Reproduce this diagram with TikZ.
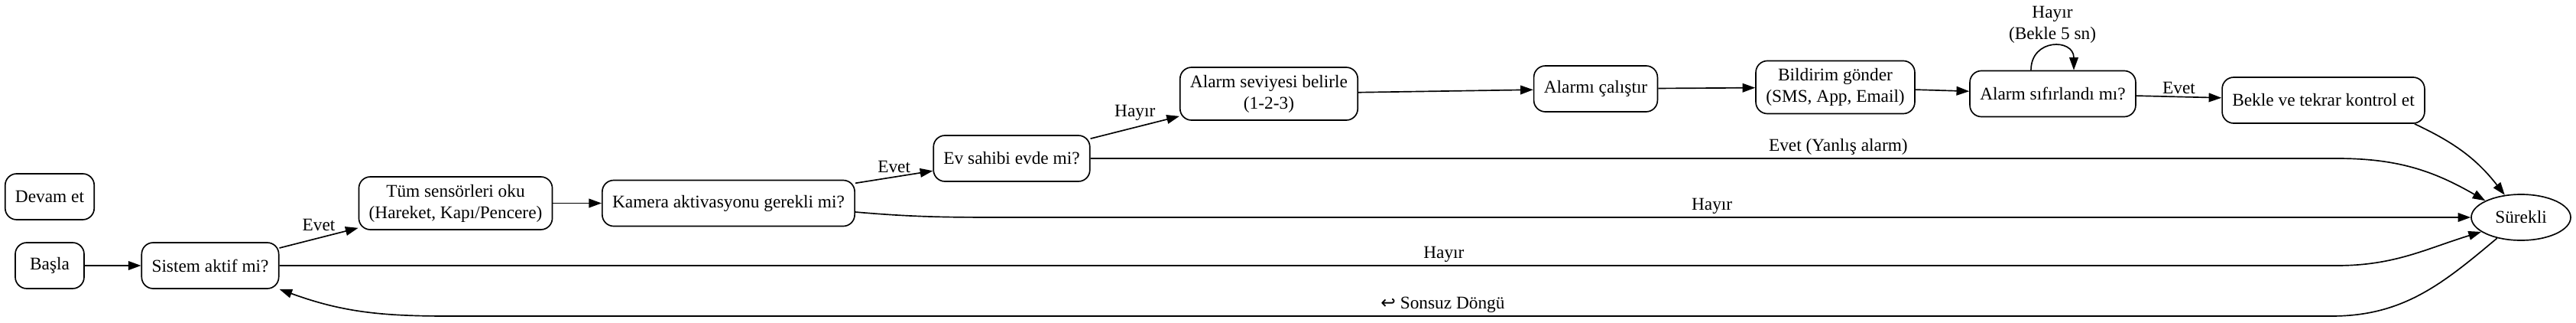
\documentclass[tikz,border=0pt]{standalone}
\usepackage{fontspec}
\setmainfont{Liberation Serif}
\newfontfamily\arrowfont{DejaVu Sans}
\usepackage{tikz}
\usetikzlibrary{arrows.meta,positioning,shapes.geometric}

\begin{document}
\begin{tikzpicture}[
                block/.style={draw, rounded corners=9pt, line width=1pt, minimum width=54pt, minimum height=36pt, inner xsep=7.92pt, inner ysep=3.96pt, align=center, font=\fontsize{14}{16.8}\selectfont},
                tall/.style={minimum height=41.4pt},
                oval/.style={draw, ellipse, line width=1pt, minimum width=78pt, minimum height=36pt, inner sep=0pt, font=\fontsize{14}{16.8}\selectfont},
                arrow/.style={-{Triangle[length=10pt,width=7pt]}, line width=1pt},
                lbl/.style={inner sep=2pt, align=center, font=\fontsize{14}{16.8}\selectfont},
                on grid
            ]
            \useasboundingbox (-39pt,-44.4pt) rectangle (1983pt,208.2pt);

            \node[block] (basla) {Başla};
            \node[block, above=54pt of basla] (devam) {Devam et};
            \node[block, right=126pt of basla] (sistem) {Sistem aktif mi?};
            \node[block, tall, above right=48.9pt and 192.6pt of sistem] (sensor) {Tüm sensörleri oku\\(Hareket, Kapı/Pencere)};
            \node[block, right=214.2pt of sensor] (kamera) {Kamera aktivasyonu gerekli mi?};
            \node[block, above right=35.1pt and 222.3pt of kamera] (evsahibi) {Ev sahibi evde mi?};
            \node[block, tall, above right=50.7pt and 201.9pt of evsahibi] (seviye) {Alarm seviyesi belirle\\(1-2-3)};
            \node[block, above right=3.9pt and 256.5pt of seviye] (calistir) {Alarmı çalıştır};
            \node[block, tall, above right=1.2pt and 188.1pt of calistir] (bildirim) {Bildirim gönder\\(SMS, App, Email)};
            \node[block, below right=5.1pt and 170.7pt of bildirim] (sifir) {Alarm sıfırlandı mı?};
            \node[block, below right=5.1pt and 212.4pt of sifir] (bekle) {Bekle ve tekrar kontrol et};
            \node[oval, below right=91.8pt and 155.1pt of bekle] (surekli) {Sürekli};

            \path (surekli.center |- evsahibi.east) ++(-144.6pt,0) coordinate (yanlis);
            \path (evsahibi.center |- surekli.west) coordinate (kameraH);
            \path (yanlis |- sistem.east) coordinate (sistemH);
            \path (yanlis |- sistem.center) ++(-4.2pt,-39.6pt) coordinate (donguR);
            \path (sistem.center) ++(187.2pt,-39.6pt) coordinate (donguL);

            \draw[arrow] (basla) -- (sistem);
            \draw[arrow] (sistem) -- node[lbl, above=3pt] {Evet} (sensor);
            \draw[arrow] (sensor) -- (kamera);
            \draw[arrow] (kamera) -- node[lbl, above=1pt] {Evet} (evsahibi);
            \draw[arrow] (evsahibi) -- node[lbl, above=3pt] {Hayır} (seviye);
            \draw[arrow] (seviye) -- (calistir);
            \draw[arrow] (calistir) -- (bildirim);
            \draw[arrow] (bildirim) -- (sifir);
            \draw[arrow] (sifir) -- node[lbl, above] {Evet} (bekle);
            \draw[arrow] ([xshift=-17.1pt]sifir.north) .. controls +(0,25pt) and +(0,25pt) .. node[lbl, above] {Hayır\\(Bekle 5 sn)} ([xshift=16.5pt]sifir.north);

            \draw[arrow] ([xshift=-8.4pt]bekle.south east) to[out=-25, in=128] (surekli.126);
            \draw[arrow] (evsahibi.east) -- node[lbl, above, pos=0.6] {Evet (Yanlış alarm)} (yanlis) to[out=0, in=150] (surekli.155);
            \draw[arrow] ([yshift=-6.9pt]kamera.east) to[out=-5, in=180] (kameraH) -- node[lbl, above, pos=0.48] {Hayır} (surekli.west);
            \draw[arrow] (sistem.east) -- node[lbl, above, pos=0.566] {Hayır} (sistemH) to[out=0, in=197] (surekli.200);
            \draw[arrow] (surekli.221) to[out=-140, in=0] (donguR) -- node[lbl, above, pos=0.472] {{\arrowfont ↩} Sonsuz Döngü} (donguL) to[out=180, in=-20] (sistem.south east);

        \end{tikzpicture}
\end{document}
